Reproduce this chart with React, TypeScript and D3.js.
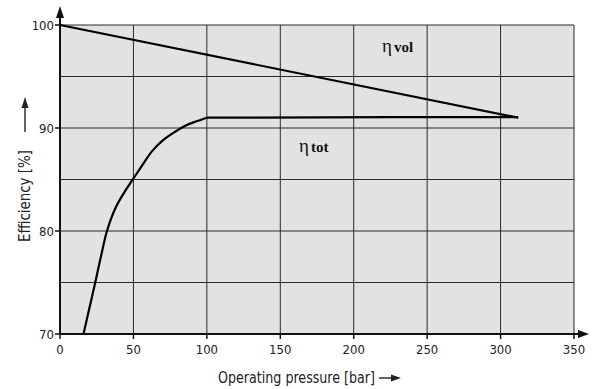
import React from "react";
import * as d3 from "d3";

const xTicks = [0, 50, 100, 150, 200, 250, 300, 350];
const yTicks = [70, 80, 90, 100];
const yGrid = [70, 75, 80, 85, 90, 95, 100];

const volPressure = [0, 312];
const volEff = [100, 91.0];

// rising part of the total efficiency curve
const totRisePressure = [16, 20, 24, 28, 32, 38, 44, 50, 57, 63, 70, 78, 85, 92, 100];
const totRiseEff = [70, 72.5, 75, 77.6, 80, 82.3, 83.8, 85.1, 86.6, 87.8, 88.8, 89.6, 90.2, 90.6, 91.0];
// flat part of the total efficiency curve
const totFlatPressure = [100, 226, 312];
const totFlatEff = [91.0, 91.05, 91.05];

const W = 594;
const H = 389;
const left = 60, right = 574, top = 25, bottom = 334;

export default function App() {
  const x = d3.scaleLinear().domain([0, 350]).range([left, right]);
  const y = d3.scaleLinear().domain([70, 100]).range([bottom, top]);
  const line = d3.line<[number, number]>().x(d => x(d[0])).y(d => y(d[1]));
  const curve = d3.line<[number, number]>().x(d => x(d[0])).y(d => y(d[1])).curve(d3.curveCatmullRom.alpha(0.5));
  const volData: [number, number][] = volPressure.map((p, i) => [p, volEff[i]]);
  const riseData: [number, number][] = totRisePressure.map((p, i) => [p, totRiseEff[i]]);
  const flatData: [number, number][] = totFlatPressure.map((p, i) => [p, totFlatEff[i]]);
  const font = "'Liberation Sans Narrow', 'DejaVu Sans Condensed', 'Arial Narrow', sans-serif";
  const serif = "'Liberation Serif', 'DejaVu Serif', serif";
  return (
    <svg width={W} height={H} style={{ position: "absolute", left: 0, top: 0 }}>
      <rect x={0} y={0} width={W} height={H} fill="#fff" />
      <rect x={left} y={top} width={right - left} height={bottom - top} fill="#e2e2e2" />
      {yGrid.map(v => (
        <line key={"gy" + v} x1={left} x2={right} y1={y(v)} y2={y(v)} stroke="#2a2a2a" strokeWidth={1} />
      ))}
      {xTicks.map(v => (
        <line key={"gx" + v} x1={x(v)} x2={x(v)} y1={top} y2={bottom} stroke="#2a2a2a" strokeWidth={1} />
      ))}
      {/* axes */}
      <line x1={left} x2={left} y1={bottom} y2={top - 10} stroke="#111" strokeWidth={2} />
      <path d={`M${left - 4},${top - 7} L${left},${top - 19} L${left + 4},${top - 7} Z`} fill="#111" />
      <line x1={left} x2={right + 6} y1={bottom} y2={bottom} stroke="#111" strokeWidth={2} />
      <path d={`M${right + 4},${bottom - 4} L${right + 15},${bottom} L${right + 4},${bottom + 4} Z`} fill="#111" />
      {yTicks.map(v => (
        <g key={"ty" + v}>
          <line x1={left - 5} x2={left} y1={y(v)} y2={y(v)} stroke="#111" strokeWidth={1.5} />
          <text x={left - 6} y={y(v) + 4.5} textAnchor="end" fontFamily={font} fontSize={13} fill="#222">{v}</text>
        </g>
      ))}
      {xTicks.map(v => (
        <g key={"tx" + v}>
          <line x1={x(v)} x2={x(v)} y1={bottom} y2={bottom + 5} stroke="#111" strokeWidth={1.5} />
          <text x={x(v)} y={bottom + 20} textAnchor="middle" fontFamily={font} fontSize={13} fill="#222">{v}</text>
        </g>
      ))}
      <path d={line(volData) || ""} fill="none" stroke="#000" strokeWidth={2.2} />
      <path d={curve(riseData) || ""} fill="none" stroke="#000" strokeWidth={2.2} />
      <path d={line(flatData) || ""} fill="none" stroke="#000" strokeWidth={2.2} />
      <text x={382} y={52} fontFamily={serif} fontSize={19} fill="#111">η</text>
      <text x={394} y={52} fontFamily={serif} fontWeight="bold" fontSize={15} fill="#111">vol</text>
      <text x={299} y={152} fontFamily={serif} fontSize={19} fill="#111">η</text>
      <text x={311} y={152} fontFamily={serif} fontWeight="bold" fontSize={15} fill="#111">tot</text>
      <text x={218} y={383} fontFamily={font} fontSize={15} fill="#222" textLength={157} lengthAdjust="spacingAndGlyphs">Operating pressure [bar]</text>
      <line x1={379} x2={393} y1={378} y2={378} stroke="#222" strokeWidth={1.4} />
      <path d={`M391,374.5 L401,378 L391,381.5 Z`} fill="#222" />
      <text transform={`translate(30,242) rotate(-90)`} textAnchor="start" fontFamily={font} fontSize={15} fill="#222" textLength={92} lengthAdjust="spacingAndGlyphs">Efficiency [%]</text>
      <line x1={25} x2={25} y1={132} y2={106} stroke="#222" strokeWidth={1.4} />
      <path d={`M21.5,108 L25,97 L28.5,108 Z`} fill="#222" />
    </svg>
  );
}
